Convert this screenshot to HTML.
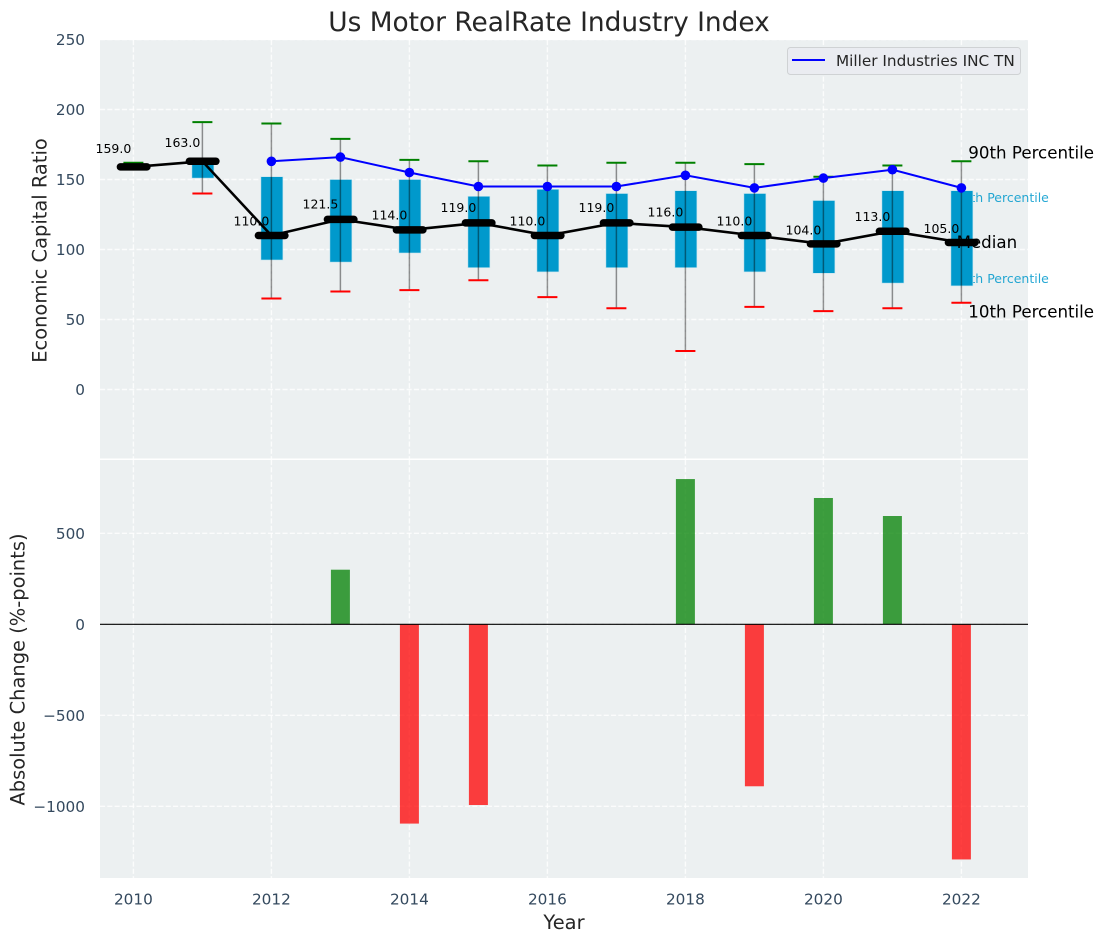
<!DOCTYPE html>
<html lang="en">
<head>
<meta charset="utf-8">
<title>Us Motor RealRate Industry Index</title>
<style>
html,body{margin:0;padding:0;background:#fff;width:1103px;height:942px;overflow:hidden}
svg{display:block;font-family:"DejaVu Sans","Liberation Sans",sans-serif}
</style>
</head>
<body>
<svg id="chart" xmlns="http://www.w3.org/2000/svg" width="1103" height="942" viewBox="0 0 1103 942"></svg>
<script>
const years = [2010,2011,2012,2013,2014,2015,2016,2017,2018,2019,2020,2021,2022];
const medianValues = [159,163,110,121.5,114,119,110,119,116,110,104,113,105];
const q3Values = [159,163,152,150,150,138,143,140,142,140,135,142,142];
const q1Values = [159,151,92.5,91,97.5,87,84,87,87,84,83,76,74];
const p90Values = [162,191,190,179,164,163,160,162,162,161,152,160,163];
const p10Values = [159,140,65,70,71,78,66,58,27.5,59,56,58,62];
const companyYears = [2012,2013,2014,2015,2016,2017,2018,2019,2020,2021,2022];
const companyValues = [163,166,155,145,145,145,153,144,151,157,144];
const changeYears = [2013,2014,2015,2018,2019,2020,2021,2022];
const changeValues = [300,-1095,-993,798,-890,694,595,-1292];
const xTickValues = [2010,2012,2014,2016,2018,2020,2022];
const topTickValues = [0,50,100,150,200,250];
const bottomTickValues = [-1000,-500,0,500];

const NS = 'http://www.w3.org/2000/svg';
const svg = document.getElementById('chart');
const L = 100, R = 1028, T1 = 40, B1 = 458.5, T2 = 460, B2 = 878;
const X = y => 133.4 + (y - 2010) * 69;
const Y1 = v => 389.5 - v * 1.4;
const Y2 = v => 624.3 - v * 0.182;
const TICK = '#34495e';

function add(tag, attrs, text) {
  const el = document.createElementNS(NS, tag);
  for (const k in attrs) el.setAttribute(k, attrs[k]);
  if (text !== undefined) el.textContent = text;
  svg.appendChild(el);
  return el;
}
let e;

e = add('rect', {x:L, y:T1, width:R-L, height:B1-T1, fill:'#ecf0f1'});


e = add('rect', {x:L, y:T2, width:R-L, height:B2-T2, fill:'#ecf0f1'});



const gridStyle = {stroke:'#fff', 'stroke-width':1.4, 'stroke-dasharray':'5.1 2.2', opacity:0.8};
xTickValues.forEach(v => {
  e = add('line', {x1:X(v), x2:X(v), y1:T1, y2:B1, ...gridStyle});
  
  
  e = add('line', {x1:X(v), x2:X(v), y1:T2, y2:B2, ...gridStyle});
  
  
  e = add('text', {x:X(v), y:904.5, 'text-anchor':'middle', 'font-size':15.28, fill:TICK}, String(v));
  
  
});
topTickValues.forEach(v => {
  e = add('line', {x1:L, x2:R, y1:Y1(v), y2:Y1(v), ...gridStyle});
  
  
  e = add('text', {x:85, y:Y1(v)+5.5, 'text-anchor':'end', 'font-size':15.28, fill:TICK}, String(v));
  
  
});
bottomTickValues.forEach(v => {
  e = add('line', {x1:L, x2:R, y1:Y2(v), y2:Y2(v), ...gridStyle});
  
  
  e = add('text', {x:85, y:Y2(v)+5.5, 'text-anchor':'end', 'font-size':15.28, fill:TICK}, String(v).replace('-', '\u2212'));
  
  
});

const lastYear = years[years.length - 1];
const lastIdx = years.length - 1;

e = add('text', {x:X(lastYear + 0.1), y:Y1(p90Values[lastIdx]) - 3, 'font-size':16.67, fill:'#000'}, '90th Percentile');


e = add('text', {x:X(lastYear - 0.1), y:Y1(q3Values[lastIdx]) + 11.5, 'font-size':12.5, fill:'#0099cc', 'fill-opacity':0.85}, '75th Percentile');


e = add('text', {x:X(lastYear - 0.1), y:Y1(q1Values[lastIdx]) - 3, 'font-size':12.5, fill:'#0099cc', 'fill-opacity':0.85}, '25th Percentile');


e = add('text', {x:X(lastYear + 0.1), y:Y1(p10Values[lastIdx]) + 15, 'font-size':16.67, fill:'#000'}, '10th Percentile');



years.forEach((yr, i) => {
  const cx = X(yr);
  const top = Y1(q3Values[i]), bot = Y1(q1Values[i]);
  if (bot > top) {
    e = add('rect', {x:cx-10.5, y:top, width:22, height:bot-top, fill:'#0099cc', stroke:'#c4e4ef', 'stroke-width':0.6});
    
    
  }
  e = add('line', {x1:cx, x2:cx, y1:Y1(p90Values[i]), y2:Y1(p10Values[i]), stroke:'#000', 'stroke-opacity':0.42, 'stroke-width':1.5});
  
  
  e = add('line', {x1:cx-10, x2:cx+10, y1:Y1(p90Values[i]), y2:Y1(p90Values[i]), stroke:'#008000', 'stroke-width':2});
  
  
  e = add('line', {x1:cx-10, x2:cx+10, y1:Y1(p10Values[i]), y2:Y1(p10Values[i]), stroke:'#ff0000', 'stroke-width':2});
  
  
});

e = add('text', {x:X(lastYear - 0.07), y:Y1(medianValues[lastIdx]) + 5.5, 'font-size':16.67, fill:'#000'}, 'Median');



e = add('polyline', {points:companyYears.map((y, i) => X(y)+','+Y1(companyValues[i])).join(' '), fill:'none', stroke:'#0000ff', 'stroke-width':2});


companyYears.forEach((y, i) => {
  e = add('circle', {cx:X(y), cy:Y1(companyValues[i]), r:4.8, fill:'#0000ff'});
  
  
});

e = add('polyline', {points:years.map((y, i) => X(y)+','+Y1(medianValues[i])).join(' '), fill:'none', stroke:'#000', 'stroke-width':2.6});


years.forEach((y, i) => {
  const cy = Y1(medianValues[i]);
  e = add('line', {x1:X(y)-13, x2:X(y)+13.5, y1:cy, y2:cy, stroke:'#000', 'stroke-width':7.5, 'stroke-linecap':'round'});
  
  
  e = add('text', {x:X(y)-20, y:cy-(1+medianValues[i]*0.082), 'text-anchor':'middle', 'font-size':12.5, fill:'#000'}, medianValues[i].toFixed(1));
  
  
});

changeYears.forEach((y, i) => {
  const v = changeValues[i];
  const a = Y2(Math.max(v, 0)), b = Y2(Math.min(v, 0));
  e = add('rect', {x:X(y)-9.5, y:a, width:19, height:b-a, fill:v>=0?'#008000':'#ff0000', 'fill-opacity':0.75});
  
  
});
e = add('line', {x1:L, x2:R, y1:Y2(0), y2:Y2(0), stroke:'#000', 'stroke-width':1.2});



e = add('text', {x:549, y:31, 'text-anchor':'middle', 'font-size':26.4, fill:'#262626'}, 'Us Motor RealRate Industry Index');


e = add('text', {x:0, y:0, transform:'translate(46.5 250.5) rotate(-90)', 'text-anchor':'middle', 'font-size':19.44, fill:'#262626'}, 'Economic Capital Ratio');


e = add('text', {x:0, y:0, transform:'translate(24.5 669.5) rotate(-90)', 'text-anchor':'middle', 'font-size':19.44, fill:'#262626'}, 'Absolute Change (%-points)');


e = add('text', {x:564, y:929, 'text-anchor':'middle', 'font-size':19.44, fill:'#262626'}, 'Year');



e = add('rect', {x:787.5, y:47.5, width:233, height:27, rx:3, fill:'#eaecf1', stroke:'#cfd2d4', 'stroke-width':1});


e = add('line', {x1:792, x2:825, y1:60, y2:60, stroke:'#0000ff', 'stroke-width':2});


e = add('text', {x:836, y:66, 'font-size':15.28, fill:'#262626'}, 'Miller Industries INC TN');


</script>
</body>
</html>
